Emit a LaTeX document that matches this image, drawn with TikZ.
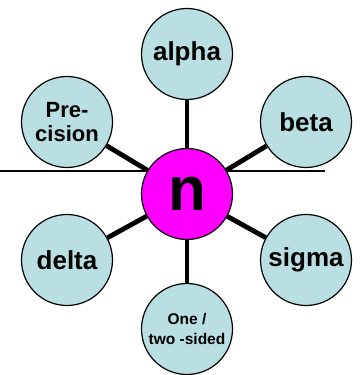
\documentclass[tikz,border=0pt]{standalone}
\usepackage{fontspec}
\setmainfont{Liberation Sans}
\definecolor{bubble}{RGB}{185,223,227}
\definecolor{pinkcore}{RGB}{255,0,255}
\tikzset{
  factor/.style={draw, circle, line width=1.2pt, minimum size=91pt, inner sep=0pt, fill=bubble, align=center, font=\fontsize{26}{30}\bfseries},
  link/.style={line width=4.8pt}
}
\begin{document}
\begin{tikzpicture}[x=1pt, y=1pt]
  \useasboundingbox (0,0) rectangle (359,375);

  % Axis line
  \coordinate (L) at (0,204);
  \coordinate (R) at (325,204);
  \draw[line width=1.5pt] (L) -- (R);

  % Sample size
  \node (N) [draw, circle, line width=1.2pt, minimum size=91pt, inner sep=0pt, fill=pinkcore, font=\fontsize{62}{62}\bfseries] at (187,181) {n};

  % Factors
  \node (alpha) [factor] at (187,321) {alpha};
  \node (beta) [factor] at (306,253) {beta};
  \node (prec) [factor, font=\fontsize{22}{24}\bfseries] at (67,253) {Pre-\\cision};
  \node (delta) [factor] at (67,115) {delta};
  \node (sigma) [factor] at (306,115) {sigma};
  \node (sides) [factor, font=\fontsize{15.5}{20}\bfseries] at (187,46) {One /\\two -sided};

  % Connections
  \foreach \f in {alpha, beta, prec, delta, sigma, sides} {
      \draw[link] (N) -- (\f);
    }
\end{tikzpicture}
\end{document}
